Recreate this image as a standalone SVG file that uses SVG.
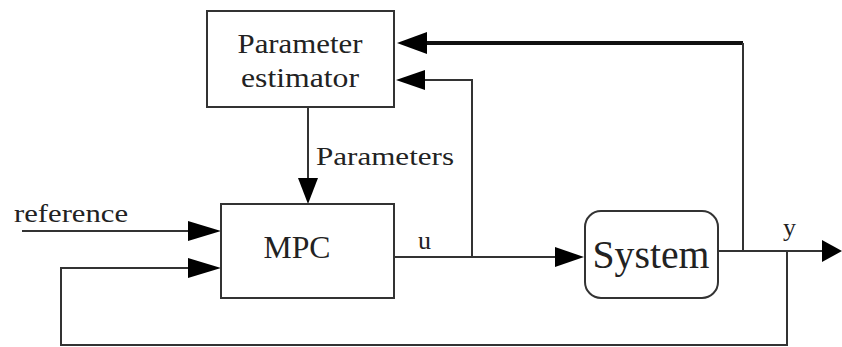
<svg xmlns="http://www.w3.org/2000/svg" width="842" height="347" viewBox="0 0 842 347">
<style>
.box{fill:#fff;stroke:#333;stroke-width:2}
.ln{fill:none;stroke:#333;stroke-width:2}
.thick{fill:none;stroke:#111;stroke-width:4}
.t{font-family:"Liberation Serif","Times New Roman",serif;fill:#222}
.ah{fill:#000}
</style>
<rect width="842" height="347" fill="#fff"/>
<g id="connectors">
<path class="thick" d="M743,43 H425"/>
<polygon class="ah" points="397,43 427,32 427,54"/>
<path class="ln" d="M743,251 V43"/>
<path class="ln" d="M472,257 V80 H425"/>
<polygon class="ah" points="396,80 425,70 425,90"/>
<path class="ln" d="M308,107 V180"/>
<polygon class="ah" points="308,204 298,178 318,178"/>
<path class="ln" d="M22,231 H190"/>
<polygon class="ah" points="221,231 188,221 188,241"/>
<path class="ln" d="M787,251 V345 H61 V268 H190"/>
<polygon class="ah" points="221,268 188,258 188,278"/>
<path class="ln" d="M394,257 H556"/>
<polygon class="ah" points="584,257 555,247 555,267"/>
<path class="ln" d="M718,251 H824"/>
<polygon class="ah" points="842,251 822,240 822,262"/>
</g>
<g id="estimator">
<rect class="box" x="207" y="11" width="187" height="96"/>
<text class="t" x="300" y="53" font-size="28" text-anchor="middle" textLength="125" lengthAdjust="spacingAndGlyphs">Parameter</text>
<text class="t" x="300" y="87" font-size="28" text-anchor="middle" textLength="118" lengthAdjust="spacingAndGlyphs">estimator</text>
</g>
<g id="mpc">
<rect class="box" x="221" y="204" width="173" height="94"/>
<text class="t" x="297" y="258" font-size="31" text-anchor="middle" textLength="67" lengthAdjust="spacingAndGlyphs">MPC</text>
</g>
<g id="system">
<rect class="box" x="585" y="211" width="133" height="87" rx="16"/>
<text class="t" x="651" y="268" font-size="40" text-anchor="middle" textLength="117" lengthAdjust="spacingAndGlyphs">System</text>
</g>
<g id="labels">
<text class="t" x="316" y="165" font-size="26" textLength="138" lengthAdjust="spacingAndGlyphs">Parameters</text>
<text class="t" x="14" y="222" font-size="26" textLength="114" lengthAdjust="spacingAndGlyphs">reference</text>
<text class="t" x="418" y="249" font-size="26">u</text>
<text class="t" x="783" y="236" font-size="26">y</text>
</g>
</svg>
